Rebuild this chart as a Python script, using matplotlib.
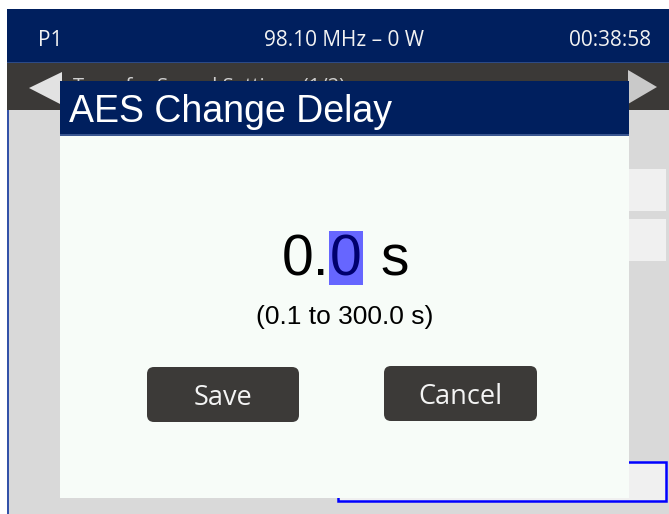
import matplotlib
matplotlib.use("Agg")
import matplotlib.pyplot as plt
from matplotlib.patches import Rectangle, Polygon, FancyBboxPatch

# ---- content ----
header_left = "P1"
header_center = "98.10 MHz \u2013 0 W"
header_right = "00:38:58"
page_title = "Transfer Sound Settings (1/2)"
dialog_title = "AES Change Delay"
value_int = "0."
value_dec = "0"
value_unit = "s"
range_text = "(0.1 to 300.0 s)"
buttons = ["Save", "Cancel"]

# ---- colours ----
NAVY = "#001f5e"
BAND = "#3b3937"
BG = "#d9d9d9"
BODY = "#f7fcf8"
BTN = "#3c3a38"
HILITE = "#6666ff"

W, H = 669, 514
fig = plt.figure(figsize=(W / 100, H / 100), dpi=100)
ax = fig.add_axes([0, 0, 1, 1])
ax.set_xlim(0, W)
ax.set_ylim(H, 0)
ax.axis("off")
fig.patch.set_facecolor("white")

SEG = ["Open Sans", "DejaVu Sans"]
ARIAL = ["Liberation Sans", "DejaVu Sans"]

def rect(x0, y0, x1, y1, z=1, **kw):
    ax.add_patch(Rectangle((x0, y0), x1 - x0, y1 - y0, zorder=z, **kw))

# screen background
rect(7, 110, W, H, facecolor=BG, edgecolor="none")
rect(7, 110, 9, H, facecolor="#3352a8", edgecolor="none")
# header
rect(7, 9, W, 62, facecolor=NAVY, edgecolor="none")
rect(7, 61.5, W, 63, facecolor="#2c4a86", edgecolor="none")
ax.text(38, 46, header_left, family=SEG, fontsize=15, color="#f2f2f2", va="baseline", ha="left")
ax.text(344, 46, header_center, family=SEG, fontsize=15, color="#f2f2f2", va="baseline", ha="center")
ax.text(651, 46, header_right, family=SEG, fontsize=15, color="#f2f2f2", va="baseline", ha="right")
# page band
rect(7, 63, W, 110, facecolor=BAND, edgecolor="none")
ax.add_patch(Polygon([(29, 88), (62, 72), (62, 105)], closed=True, facecolor="#e2e2e2", edgecolor="none", zorder=1))
ax.add_patch(Polygon([(657, 87), (628, 70), (628, 104)], closed=True, facecolor="#c9c9c9", edgecolor="none", zorder=1))
ax.text(73, 92, page_title, family=SEG, fontsize=14.5, color="#d0d0d0", va="baseline", ha="left", zorder=2)

# right side list items
rect(560, 169, 666, 211, facecolor="#f0f0f0", edgecolor="none")
rect(560, 219, 666, 261, facecolor="#f0f0f0", edgecolor="none")
# blue selected box
ax.add_patch(Rectangle((338, 462), 328, 39, facecolor="#f0f0f0", edgecolor="#0000ff", linewidth=1.8, zorder=1))

# dialog (on top of the page)
rect(60, 135, 629, 498, z=5, facecolor=BODY, edgecolor="none")
rect(60, 81, 629, 135, z=5, facecolor=NAVY, edgecolor="none")
rect(60, 134, 629, 135.5, z=5, facecolor="#3a5690", edgecolor="none")
ax.text(69, 122, dialog_title, family=ARIAL, fontsize=27, color="white", va="baseline", ha="left", zorder=7)

# value
rect(329, 231, 363, 285, z=6, facecolor=HILITE, edgecolor="none")
ax.text(329, 275, value_int, family=ARIAL, fontsize=41, color="black", va="baseline", ha="right", zorder=7)
ax.text(346, 275, value_dec, family=ARIAL, fontsize=41, color="#00006e", va="baseline", ha="center", zorder=7)
ax.text(380, 275, value_unit, family=ARIAL, fontsize=41, color="black", va="baseline", ha="left", zorder=7)
ax.text(344.5, 324, range_text, family=ARIAL, fontsize=19, color="black", va="baseline", ha="center", zorder=7)

# buttons
btn_boxes = [(147, 367, 299, 422), (384, 366, 537, 421)]
for label, (x0, y0, x1, y1) in zip(buttons, btn_boxes):
    ax.add_patch(FancyBboxPatch((x0, y0), x1 - x0, y1 - y0,
                                boxstyle="round,pad=0,rounding_size=7",
                                facecolor=BTN, edgecolor="none", zorder=6))
    ax.text((x0 + x1) / 2, y1 - 17, label, family=SEG, fontsize=19.5,
            color="#f4f4f4", va="baseline", ha="center", zorder=7)

fig.savefig("out.png", dpi=100, facecolor="white")
